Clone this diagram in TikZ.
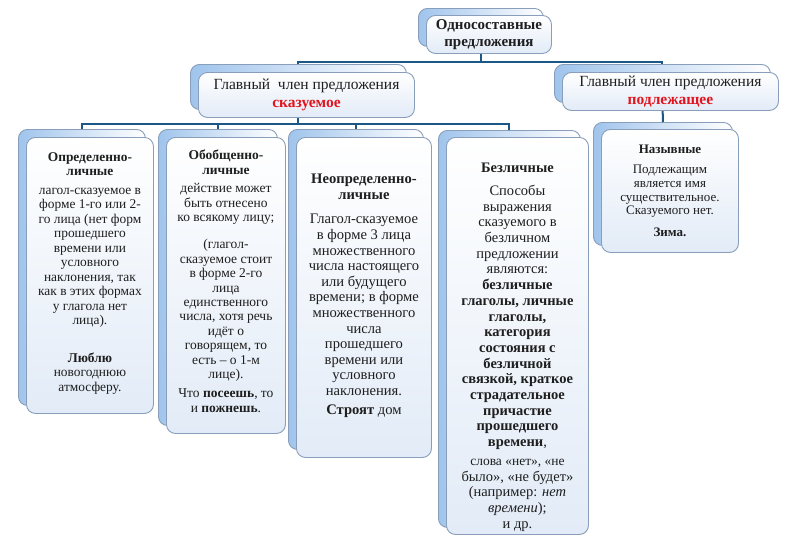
\documentclass[tikz,border=0pt]{standalone}
\usepackage{fontspec}
\setmainfont{Liberation Serif}
\usetikzlibrary{positioning, calc}

\definecolor{framegray}{RGB}{136,158,186}
\definecolor{backblue}{RGB}{160,196,236}
\definecolor{frontblue}{RGB}{226,235,247}
\definecolor{linkblue}{RGB}{28,88,135}
\definecolor{redtext}{RGB}{226,20,30}
\definecolor{inktext}{RGB}{30,30,30}

\tikzset{
	boxsize/.style 2 args={minimum width=#1pt, minimum height=#2pt},
	backbox/.style={draw=framegray, line width=0.9pt, rounded corners=9pt, left color=backblue, right color=white, anchor=north west, inner sep=0pt},
	frontbox/.style={draw=framegray, line width=0.9pt, rounded corners=9pt, top color=white, bottom color=frontblue, anchor=north west, inner sep=0pt, align=center, text=inktext},
	link/.style={draw=linkblue, line width=2pt},
	boxtext/.style={align=center, inner sep=0pt, anchor=north, text=inktext}
}

\begin{document}
\begin{tikzpicture}[x=1pt, y=-1pt]

		\useasboundingbox[fill=white] (0,0) rectangle (800,546);

		\node[backbox, boxsize={125}{38}] (odn-b) at (418,8) {};
		\node[backbox, boxsize={216}{45}] (skaz-b) at (190,64) {};
		\node[backbox, boxsize={216}{38}] (podl-b) at (554,64) {};

		\node[backbox, boxsize={127}{276}] (opr-b) at (18,129) {};
		\node[backbox, boxsize={119}{296}] (obob-b) at (158,129) {};
		\node[backbox, boxsize={135}{320}] (neopr-b) at (288,129) {};
		\node[backbox, boxsize={142}{397}] (bezl-b) at (438,130) {};
		\node[backbox, boxsize={139}{123}] (naz-b) at (593,122) {};

		\draw[link] (odn-b.south) -- ++(0,15) -| (skaz-b.north);
		\draw[link] (odn-b.south) -- ++(0,15) -| (podl-b.north);

		\draw[link] (skaz-b.south) -- ++(0,14) -| (opr-b.north);
		\draw[link] (skaz-b.south) -- ++(0,14) -| (obob-b.north);
		\draw[link] (skaz-b.south) -- ++(0,14) -| (neopr-b.north);
		\draw[link] (skaz-b.south) -- ++(0,14) -| (bezl-b.north);

		\draw[link] (podl-b.south) -- (naz-b.north);

		\node[frontbox, boxsize={125}{38}, font=\fontsize{15}{16.5}\selectfont\bfseries] (odn) at ([shift={(8,7)}]odn-b.north west) {Односоставные\\предложения};
		\node[frontbox, boxsize={216}{45}, font=\fontsize{15.5}{18}\selectfont] (skaz) at ([shift={(8,8)}]skaz-b.north west) {Главный\ \ член предложения\\\textbf{\color{redtext}сказуемое}};
		\node[frontbox, boxsize={216}{38}, font=\fontsize{15.5}{18}\selectfont] (podl) at ([shift={(8,8)}]podl-b.north west) {Главный член предложения\\\textbf{\color{redtext}подлежащее}};

		\node[frontbox, boxsize={127}{276}] (opr) at ([shift={(8,8)}]opr-b.north west) {};
		\node[frontbox, boxsize={119}{296}] (obob) at ([shift={(8,8)}]obob-b.north west) {};
		\node[frontbox, boxsize={135}{320}] (neopr) at ([shift={(8,8)}]neopr-b.north west) {};
		\node[frontbox, boxsize={142}{397}] (bezl) at ([shift={(8,7)}]bezl-b.north west) {};
		\node[frontbox, boxsize={137}{123}] (naz) at ([shift={(8,7)}]naz-b.north west) {};

		\node[boxtext, below=15pt of opr.north, font=\fontsize{13.4}{14.5}\selectfont] (opr-t) {\textbf{Определенно-}\\\textbf{личные}\\[4pt]
			лагол-сказуемое в\\форме 1-го или 2-\\го лица (нет форм\\прошедшего\\времени или\\условного\\наклонения, так\\как в этих формах\\у глагола нет\\лица).\\[23pt]
			\textbf{Люблю}\\новогоднюю\\атмосферу.};

		\node[boxtext, below=13pt of obob.north, font=\fontsize{13.5}{14.4}\selectfont] (obob-t) {\textbf{Обобщенно-}\\\textbf{личные}\\[4pt]
			действие может\\быть отнесено\\ко всякому лицу;\\[13pt]
			(глагол-\\сказуемое стоит\\в форме 2-го\\лица\\единственного\\числа, хотя речь\\идёт о\\говорящем, то\\есть – о 1-м\\лице).\\[5pt]
			Что \textbf{посеешь}, то\\и \textbf{пожнешь}.};

		\node[boxtext, below=37pt of neopr.north, font=\fontsize{14.6}{15.6}\selectfont] (neopr-t) {\textbf{Неопределенно-}\\\textbf{личные}\\[9pt]
			Глагол-сказуемое\\в форме 3 лица\\множественного\\числа настоящего\\или будущего\\времени; в форме\\множественного\\числа\\прошедшего\\времени или\\условного\\наклонения.\\[3pt]
			\textbf{Строят} дом};

		\node[boxtext, below=26pt of bezl.north, font=\fontsize{14.5}{15.7}\selectfont] (bezl-t) {\textbf{Безличные}\\[7pt]
			Способы\\выражения\\сказуемого в\\безличном\\предложении\\являются:\\
			\textbf{безличные}\\\textbf{глаголы, личные}\\\textbf{глаголы,}\\\textbf{категория}\\\textbf{состояния с}\\\textbf{безличной}\\\textbf{связкой, краткое}\\\textbf{страдательное}\\\textbf{причастие}\\\textbf{прошедшего}\\\textbf{времени},\\[3pt]
			\fontsize{13.5}{15}\selectfont слова «нет», «не\\было», «не будет»\\(например: \textit{нет}\\\textit{времени});\\и др.};

		\node[boxtext, below=16pt of naz.north, font=\fontsize{13}{13.8}\selectfont] (naz-t) {\textbf{Назывные}\\[6pt]
			Подлежащим\\является имя\\существительное.\\Сказуемого нет.\\[8pt]
			\textbf{Зима.}};

\end{tikzpicture}
\end{document}
